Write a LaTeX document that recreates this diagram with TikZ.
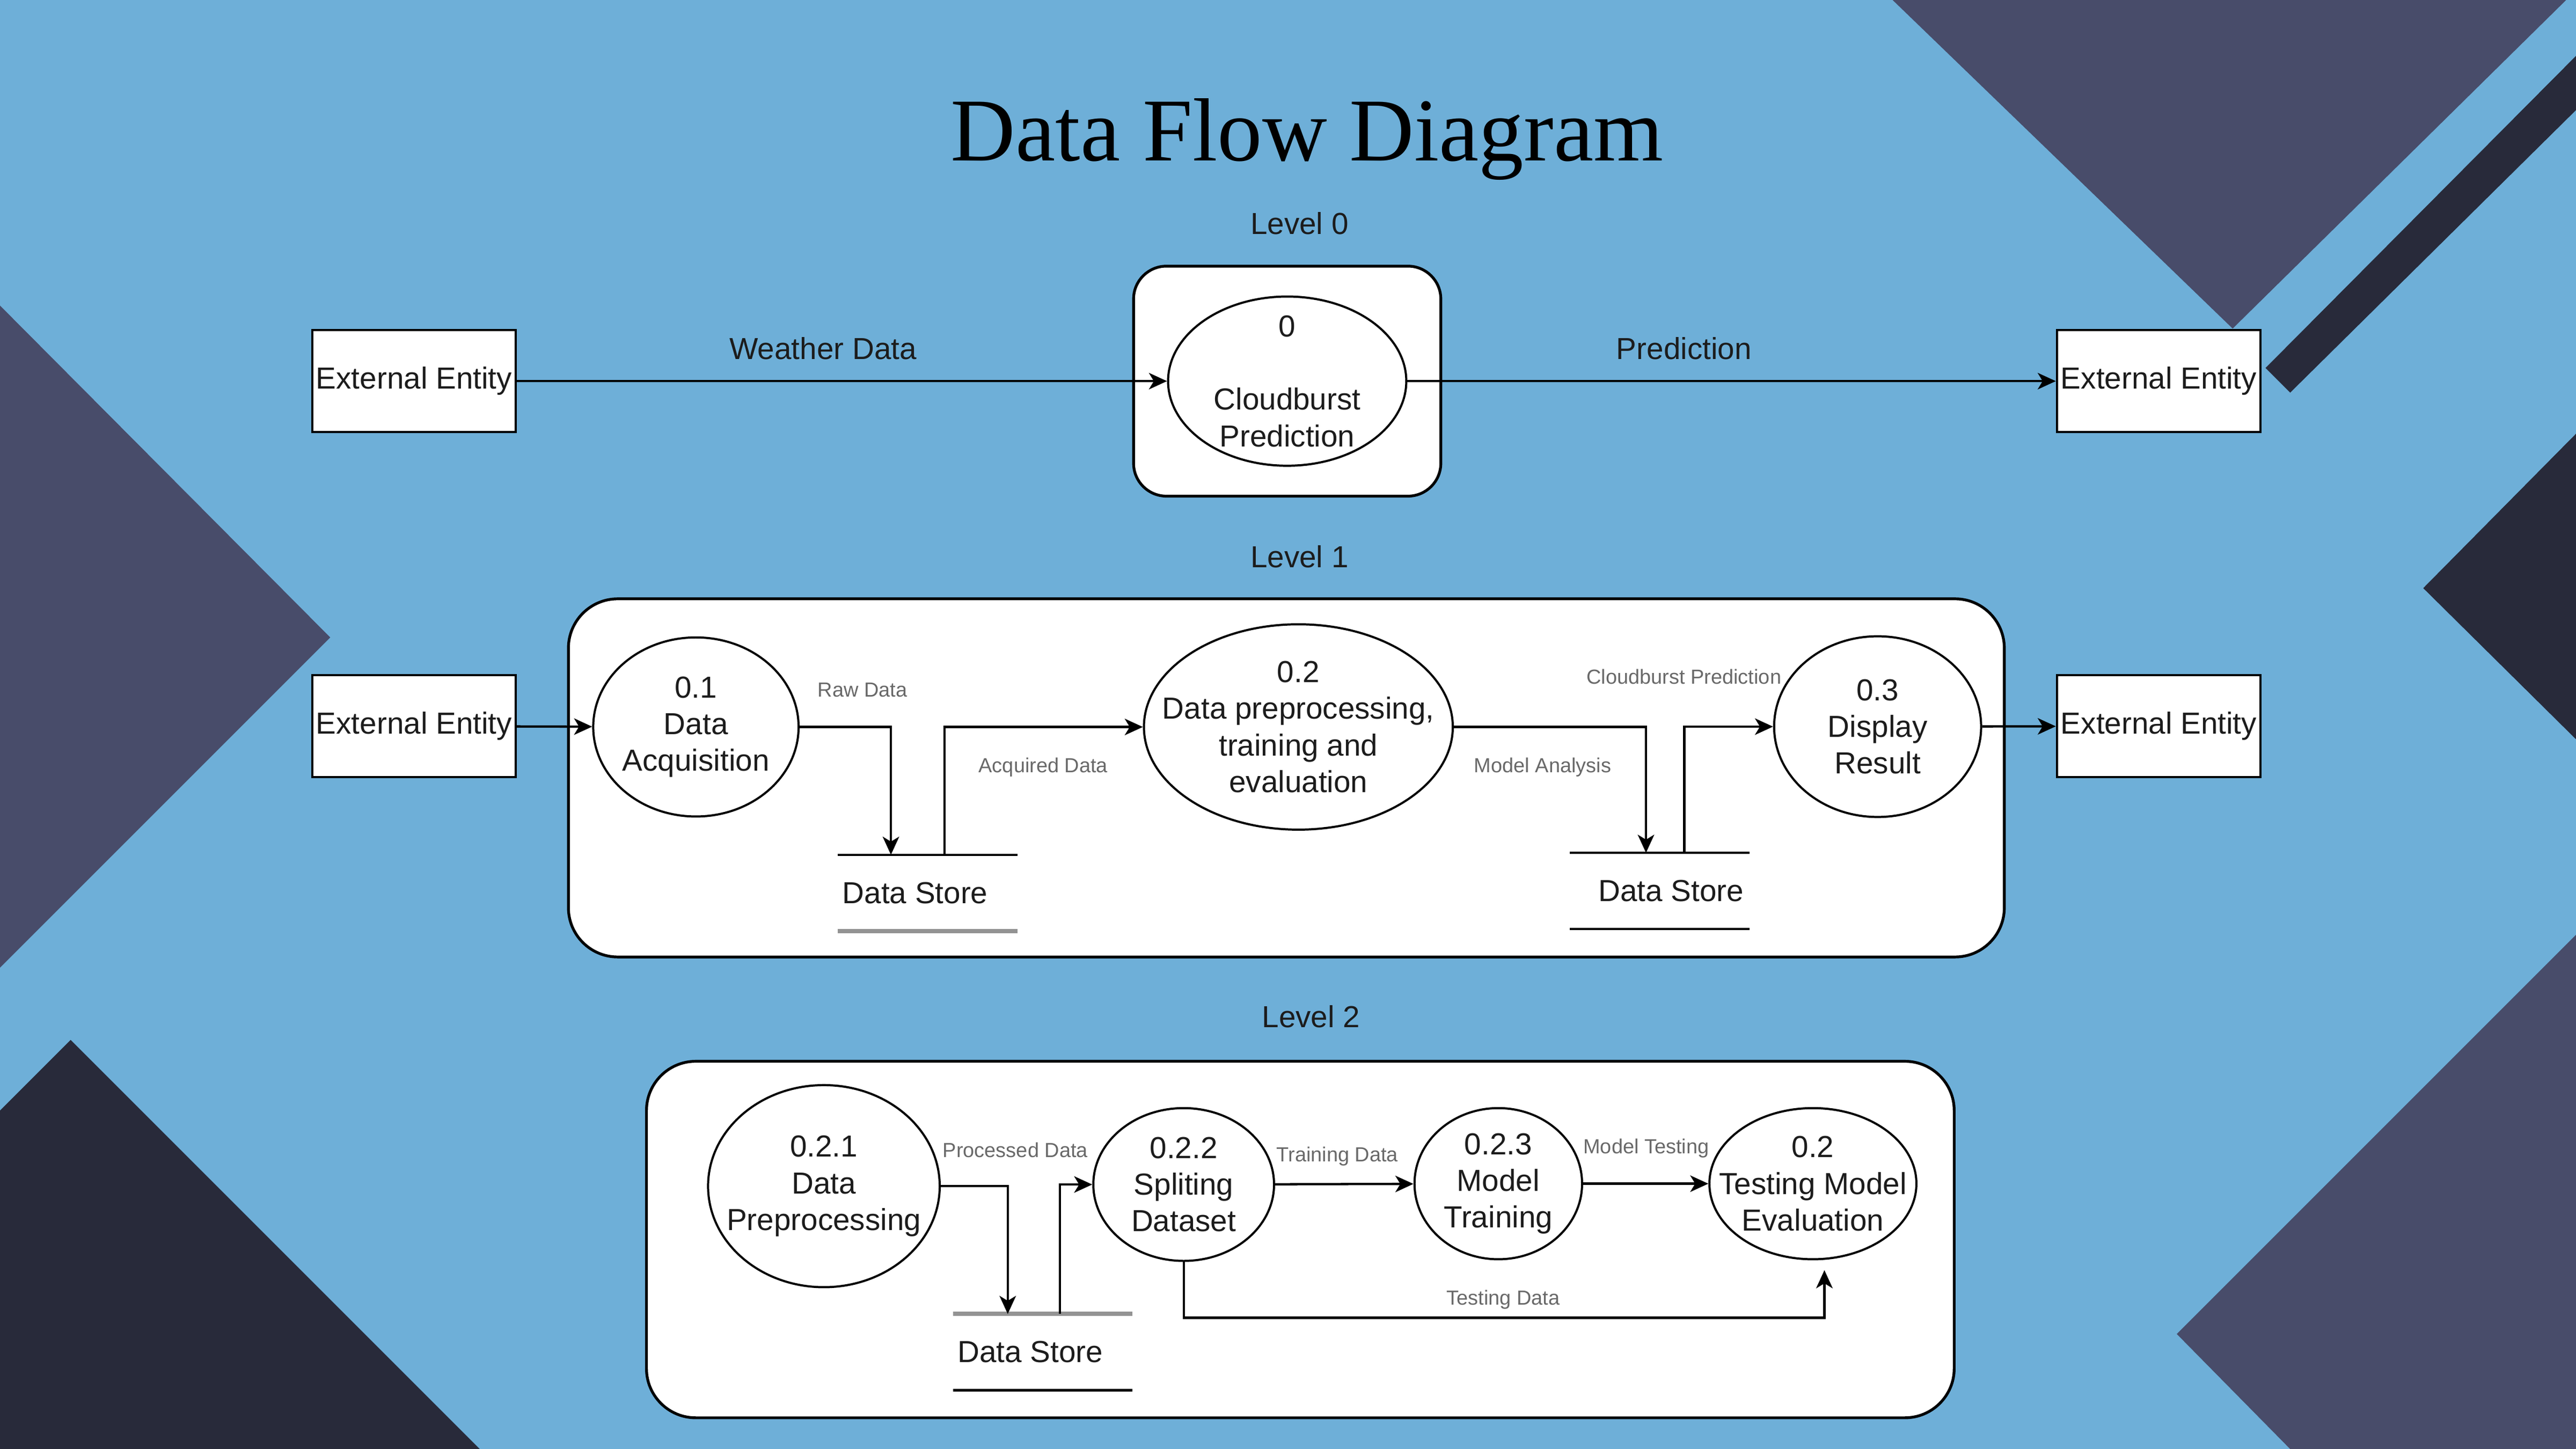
\documentclass[tikz,border=0pt]{standalone}
\usepackage{fontspec}
\setmainfont{Liberation Sans}
\newfontfamily\titleserif{Liberation Serif}
\usetikzlibrary{arrows.meta}
\usetikzlibrary{positioning}
\usetikzlibrary{shapes.geometric}

\definecolor{bgblue}{RGB}{110,175,216}
\definecolor{slate}{RGB}{72,76,106}
\definecolor{ink}{RGB}{40,42,58}
\definecolor{textdark}{RGB}{28,28,28}
\definecolor{labelgray}{RGB}{105,105,105}

\newcommand\dfdfont{\fontsize{18.5}{22.3}\selectfont}
\newcommand\dfdsmall{\fontsize{12.4}{14}\selectfont}

\tikzset{
  entity/.style={draw, fill=white, line width=1.3pt, minimum width=124pt, minimum height=62pt, inner sep=0pt, font=\dfdfont, text=textdark},
  process/.style={ellipse, draw, fill=white, line width=1.3pt, inner sep=0pt},
  proctext/.style={align=center, font=\dfdfont, text=textdark},
  store/.style={minimum width=109pt, minimum height=46pt, inner sep=0pt},
  storeline/.style={line width=1.4pt},
  storefaint/.style={line width=2.6pt, draw=gray!85},
  levelbox/.style={draw, fill=white, line width=1.7pt},
  levellabel/.style={font=\dfdfont, text=textdark},
  flow/.style={line width=1.4pt, -{Stealth[length=11pt, width=10pt, inset=3pt]}},
  flowlabel/.style={font=\dfdsmall, text=labelgray},
}

\begin{document}
\begin{tikzpicture}[x=1pt, y=-1pt]
  \useasboundingbox (0,0) rectangle (1568,882);
  \fill[bgblue] (0,0) rectangle (1568,882);

  % background shapes
  \fill[slate] (1152,0) -- (1359,200) -- (1562,0) -- cycle;
  \fill[ink] (1379,224) -- (1394,239) -- (1568,67) -- (1568,34) -- cycle;
  \fill[ink] (1568,264) -- (1475,358) -- (1568,450) -- cycle;
  \fill[slate] (0,186) -- (201,388) -- (0,589) -- cycle;
  \fill[ink] (0,676) -- (43,633) -- (292,882) -- (0,882) -- cycle;
  \fill[slate] (1568,569) -- (1325,812) -- (1394,882) -- (1568,882) -- cycle;

  \node[anchor=base, inner sep=0pt, font=\titleserif\fontsize{54.6}{60}\selectfont] (title) at (795.6,98) {Data Flow Diagram};

  % level 0
  \node[levelbox, rounded corners=20pt, minimum width=187pt, minimum height=140pt] (lvl0) at (783.5,232) {};
  \node[levellabel, above=15pt of lvl0.north, xshift=7.5pt] (lvl0label) {Level 0};

  \node[entity] (source0) at (252,232) {External Entity};
  \node[entity] (sink0) at (1314,232) {External Entity};
  \node[process, minimum width=145pt, minimum height=103pt, label={[proctext]center:{0\\[22.3pt]Cloudburst\\Prediction}}] (cloudburst) at (783.5,232) {};

  \draw[flow] (source0) -- (cloudburst);
  \draw[flow] (cloudburst) -- (sink0);
  \node[levellabel] (weatherlbl) at (501,212) {Weather Data};
  \node[levellabel] (predictlbl) at (1025,212) {Prediction};

  % level 1
  \node[levelbox, rounded corners=30pt, minimum width=874pt, minimum height=218pt] (lvl1) at (783,473.5) {};
  \node[levellabel, above=14.5pt of lvl1.north, xshift=8pt] (lvl1label) {Level 1};

  \node[entity] (source1) at (252,442) {External Entity};
  \node[entity] (sink1) at (1314,442) {External Entity};
  \node[process, minimum width=125pt, minimum height=109pt, label={[proctext]center:{0.1\\Data\\Acquisition}}] (acquisition) at (423.6,442.5) {};
  \node[process, minimum width=188pt, minimum height=125pt, label={[proctext]center:{0.2\\Data preprocessing,\\training and\\evaluation}}] (training) at (790.3,442.5) {};
  \node[process, minimum width=126pt, minimum height=110pt, label={[proctext]center:{0.3\\Display\\Result}}] (display) at (1142.9,442.3) {};
  \node[store, label={[proctext, xshift=-7.5pt]center:Data Store}] (store1) at (564.5,543.5) {};
  \node[store, label={[proctext, xshift=7pt]center:Data Store}] (store2) at (1010.2,542.3) {};

  \draw[storeline] (store1.north west) -- (store1.north east);
  \draw[storefaint] (store1.south west) -- (store1.south east);
  \draw[storeline] (store2.north west) -- (store2.north east) (store2.south west) -- (store2.south east);

  \draw[flow] (source1) -- (acquisition);
  \draw[flow] (acquisition.east) -| ([xshift=-22.2pt]store1.north);
  \draw[flow] ([xshift=10.5pt]store1.north) |- (training.west);
  \draw[flow] (training.east) -| ([xshift=-8.3pt]store2.north);
  \draw[flow] ([xshift=15pt]store2.north) |- (display.west);
  \draw[flow] (display) -- (sink1);

  \node[flowlabel] (rawlbl) at (525,420) {Raw Data};
  \node[flowlabel] (acquiredlbl) at (635,467) {Acquired Data};
  \node[flowlabel] (analysislbl) at (939,467) {Model Analysis};
  \node[flowlabel] (resultlbl) at (1025,412) {Cloudburst Prediction};

  % level 2
  \node[levelbox, rounded corners=30pt, minimum width=796pt, minimum height=217pt] (lvl2) at (791.5,754.5) {};
  \node[levellabel, above=16pt of lvl2.north, xshift=6.5pt] (lvl2label) {Level 2};

  \node[process, minimum width=141pt, minimum height=123pt, label={[proctext]center:{0.2.1\\Data\\Preprocessing}}] (preprocess) at (501.5,722) {};
  \node[process, minimum width=110pt, minimum height=93pt, label={[proctext]center:{0.2.2\\Spliting\\Dataset}}] (splitting) at (720.5,721) {};
  \node[process, minimum width=102pt, minimum height=92pt, label={[proctext]center:{0.2.3\\Model\\Training}}] (modeltrain) at (912,720.5) {};
  \node[process, minimum width=126pt, minimum height=92pt, label={[proctext]center:{0.2\\Testing Model\\Evaluation}}] (evaluation) at (1103.5,720.5) {};
  \node[store, label={[proctext, xshift=-7.6pt]center:Data Store}] (store3) at (634.7,823) {};

  \draw[storefaint] (store3.north west) -- (store3.north east);
  \draw[storeline] (store3.south west) -- (store3.south east);

  \draw[flow] (preprocess.east) -| ([xshift=-21.3pt]store3.north);
  \draw[flow] ([xshift=10.5pt]store3.north) |- (splitting.west);
  \draw[flow] (splitting) -- (modeltrain);
  \draw[flow] (modeltrain) -- (evaluation);
  \coordinate (testin) at ([xshift=7pt, yshift=-6pt]evaluation.south);
  \draw[flow] (splitting.south) -- ++(0,34) -| (testin);

  \node[flowlabel] (processedlbl) at (618,700) {Processed Data};
  \node[flowlabel] (traininglbl) at (814,704) {Training Data};
  \node[flowlabel] (testinglbl) at (1002,699) {Model Testing};
  \node[flowlabel] (testdatalbl) at (915,791) {Testing Data};
\end{tikzpicture}
\end{document}
